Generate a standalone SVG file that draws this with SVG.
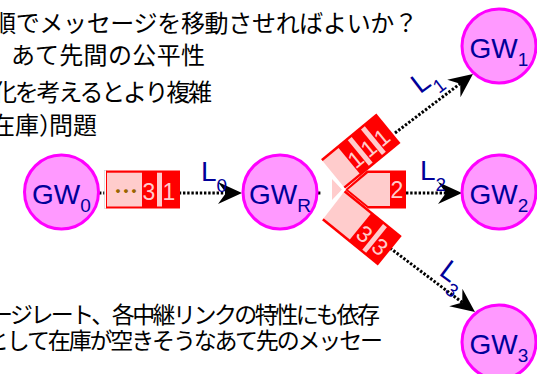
<svg xmlns="http://www.w3.org/2000/svg" width="537" height="374" viewBox="0 0 537 374">
<style>
.jp{font-family:"Noto Sans CJK JP","Noto Sans CJK SC",sans-serif;font-size:24px;fill:#000}
.jb{font-size:23px}
.node circle{fill:#ff99ff;stroke:#ff00ff;stroke-width:3}
.lbl{font-family:"Liberation Sans",Arial,sans-serif;fill:#000099;font-size:28px}
.gw{text-anchor:middle}
.sub{font-size:19px}
.link{stroke:#000;stroke-width:3;stroke-dasharray:2.4 1.8;fill:none}
.qr{fill:#ff0000}
.qp{fill:#ffcccc}
.qd{font-family:"Liberation Sans Narrow","Liberation Sans",sans-serif;font-size:23px;fill:#ffcccc;text-anchor:middle}
</style>
<defs>
<marker id="arr" markerUnits="userSpaceOnUse" markerWidth="24" markerHeight="22" viewBox="0 0 24 22" refX="15" refY="11" orient="auto">
<path d="M24,11 L0,0 L8,11 L0,22 Z" fill="#000"/>
</marker>
</defs>

<g id="text-top">
<text class="jp" x="-8" y="32" textLength="426" lengthAdjust="spacing">順でメッセージを移動させればよいか？</text>
<text class="jp" x="11" y="64" textLength="194" lengthAdjust="spacing">あて先間の公平性</text>
<text class="jp" x="-7" y="101" textLength="219" lengthAdjust="spacing">化を考えるとより複雑</text>
<text class="jp" x="-9" y="134">在庫）<tspan dx="-14">問題</tspan></text>
</g>
<g id="text-bottom">
<text class="jp jb" x="-10" y="323" textLength="390" lengthAdjust="spacing">ージレート、各中継リンクの特性にも依存</text>
<text class="jp jb" x="-14" y="349" textLength="397" lengthAdjust="spacing">として在庫が空きそうなあて先のメッセー</text>
</g>

<g id="connectors">
<line class="link" x1="99" y1="193" x2="233" y2="193" marker-end="url(#arr)"/>
<line class="link" x1="318" y1="193" x2="321" y2="193"/>
<line class="link" x1="395" y1="133" x2="465.8" y2="79.4" marker-end="url(#arr)"/>
<line class="link" x1="406" y1="193" x2="453" y2="193" marker-end="url(#arr)"/>
<line class="link" x1="390" y1="248" x2="467.8" y2="306.6" marker-end="url(#arr)"/>
<text class="lbl" x="201" y="181">L<tspan class="sub" dy="11">0</tspan></text>
<text class="lbl" transform="translate(420,94.5) rotate(-37)">L<tspan class="sub" dy="11">1</tspan></text>
<text class="lbl" x="420" y="180">L<tspan class="sub" dy="11">2</tspan></text>
<text class="lbl" transform="translate(438,274) rotate(37)">L<tspan class="sub" dy="11">3</tspan></text>
</g>

<g id="queue-0">
<rect x="104.5" y="170.5" width="2" height="38" fill="#fff" stroke="#ccc" stroke-width="0.6"/>
<rect class="qr" x="106" y="170.5" width="74" height="38"/>
<rect class="qp" x="107" y="172.7" width="35" height="33.8"/>
<rect class="qp" x="157" y="172.7" width="5" height="33.8"/>
<text x="126" y="200" font-family="Noto Sans CJK JP,sans-serif" font-size="24" font-weight="bold" fill="#996600" text-anchor="middle">…</text>
<text class="qd" x="149" y="200">3</text>
<text class="qd" x="169" y="200">1</text>
</g>

<g id="queue-2">
<polygon class="qr" points="345,189.7 367,170.5 406,170.5 406,208.5 368,208.5"/>
<polygon class="qp" points="348,189.7 368,173 390,173 390,206 368,206"/>
<text class="qd" x="397" y="198">2</text>
</g>

<g id="queue-1" transform="translate(320,160) rotate(-39.5)">
<rect class="qr" x="0" y="0" width="73" height="38"/>
<rect class="qp" x="0" y="2.5" width="22" height="33"/>
<rect class="qp" x="34" y="2.5" width="5" height="33"/>
<rect class="qp" x="51" y="2.5" width="5" height="33"/>
<text class="qd" x="28" y="30">1</text>
<text class="qd" x="45" y="30">1</text>
<text class="qd" x="62" y="30">1</text>
</g>

<g id="queue-3" transform="translate(345,190) rotate(39)">
<rect class="qr" x="0" y="0" width="73" height="38"/>
<rect class="qp" x="0" y="2.5" width="35" height="33"/>
<rect class="qp" x="51" y="2.5" width="5" height="33"/>
<text class="qd" x="43" y="30">3</text>
<text class="qd" x="63" y="30">3</text>
</g>

<g id="fan-gap">
<polygon points="332,179 342,189.5 332,200" fill="#ffcccc"/>
<polyline points="319,159 344,189.5 320,220.5" fill="none" stroke="#fff" stroke-width="3"/>
</g>

<g id="GW0" class="node"><circle cx="61.5" cy="192" r="37"/><text class="lbl gw" x="61.5" y="204">GW<tspan class="sub" dy="8">0</tspan></text></g>
<g id="GWR" class="node"><circle cx="280" cy="192" r="37"/><text class="lbl gw" x="280" y="204">GW<tspan class="sub" dy="8">R</tspan></text></g>
<g id="GW1" class="node"><circle cx="499" cy="46" r="37"/><text class="lbl gw" x="499" y="58">GW<tspan class="sub" dy="8">1</tspan></text></g>
<g id="GW2" class="node"><circle cx="499" cy="192" r="37"/><text class="lbl gw" x="499" y="204">GW<tspan class="sub" dy="8">2</tspan></text></g>
<g id="GW3" class="node"><circle cx="499" cy="342" r="37"/><text class="lbl gw" x="499" y="354">GW<tspan class="sub" dy="8">3</tspan></text></g>
</svg>
